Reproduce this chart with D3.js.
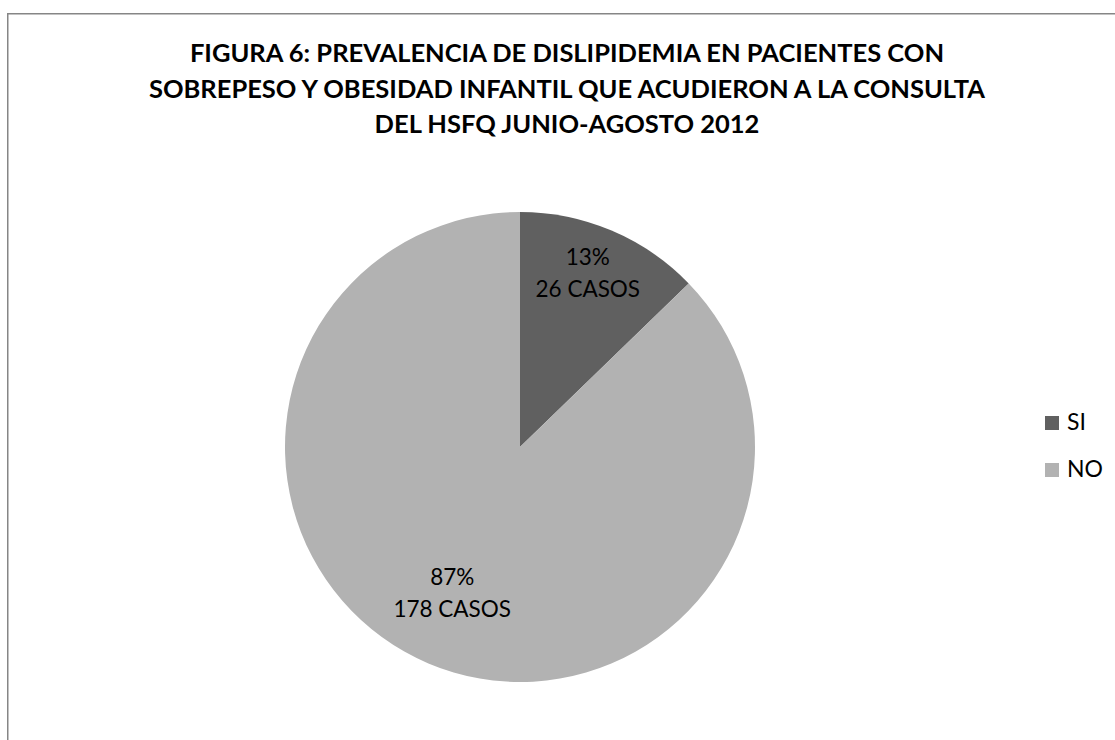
<!DOCTYPE html>
<html><head><meta charset="utf-8">
<script src="https://cdn.jsdelivr.net/npm/d3@7"></script>
<style>html,body{margin:0;padding:0;background:#fff;overflow:hidden}</style>
</head><body>
<script>
const titleLines = ["FIGURA 6: PREVALENCIA DE DISLIPIDEMIA EN PACIENTES CON",
  "SOBREPESO Y OBESIDAD INFANTIL QUE ACUDIERON A LA CONSULTA",
  "DEL HSFQ JUNIO-AGOSTO 2012"];
const categories = ["SI", "NO"];
const cases = [26, 178];
const percents = ["13%", "87%"];
const caseLabels = ["26 CASOS", "178 CASOS"];
const colors = ["#606060", "#b2b2b2"];

const W = 1115, H = 740;
const svg = d3.select("body").append("svg").attr("width", W).attr("height", H);

svg.append("rect").attr("x", 7.75).attr("y", 13.75).attr("width", 1300).attr("height", 900)
  .attr("fill", "#fff").attr("stroke", "#868686").attr("stroke-width", 1.5);

const title = svg.append("g").attr("font-family", "Lato").attr("font-weight", "bold")
  .attr("font-size", 25.5).attr("fill", "#000").attr("text-anchor", "middle");
titleLines.forEach((t, i) => {
  title.append("text").attr("x", 567).attr("y", 62 + i * 35.5).text(t);
});

const cx = 520, cy = 447, r = 235;
const data = categories.map((c, i) => ({cat: c, value: cases[i], pct: percents[i], lab: caseLabels[i], color: colors[i]}));
const pie = d3.pie().sort(null).value(d => d.value);
const arc = d3.arc().innerRadius(0).outerRadius(r);
const labelArc = d3.arc().innerRadius(r * 0.74).outerRadius(r * 0.74);
const g = svg.append("g").attr("transform", `translate(${cx},${cy})`);
const arcs = pie(data);
g.selectAll("path").data(arcs).join("path").attr("d", arc).attr("fill", d => d.data.color);

const lg = g.selectAll("g.lab").data(arcs).join("g").attr("class", "lab")
  .attr("transform", d => { const c = labelArc.centroid(d); return `translate(${c[0]},${c[1] - 14})`; })
  .attr("font-family", "Lato").attr("font-size", 22.5).attr("fill", "#000").attr("text-anchor", "middle");
lg.append("text").attr("y", -8).text(d => d.data.pct);
lg.append("text").attr("y", 24).text(d => d.data.lab);

const leg = svg.append("g").attr("font-family", "Lato").attr("font-size", 23);
categories.forEach((c, i) => {
  const y = 416 + i * 47;
  leg.append("rect").attr("x", 1045).attr("y", y).attr("width", 14).attr("height", 14).attr("fill", colors[i]);
  leg.append("text").attr("x", 1067).attr("y", y + 13.5).attr("fill", "#000").text(c);
});
</script>
</body></html>
